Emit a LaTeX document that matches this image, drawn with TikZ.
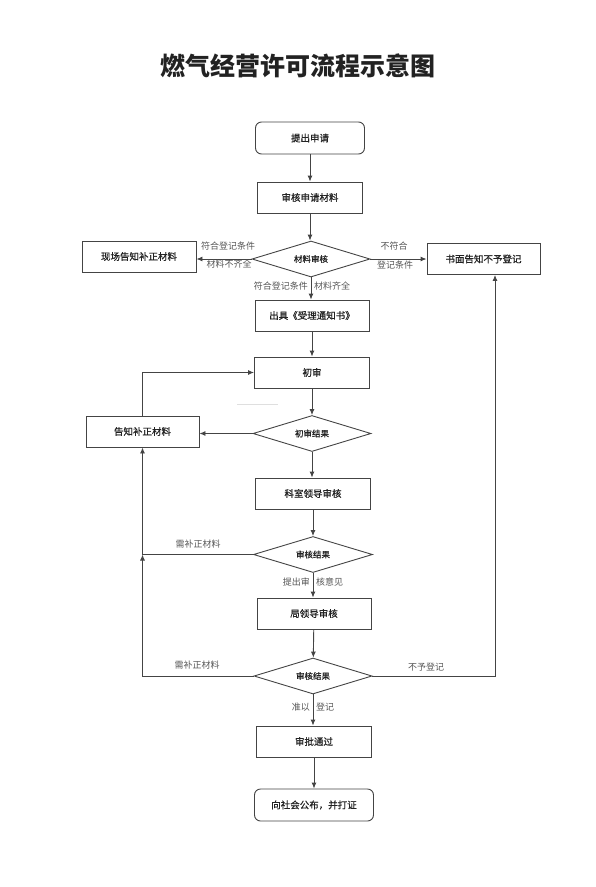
\documentclass[tikz,border=0pt]{standalone}
\usepackage{fontspec}
\newfontfamily\cjk{Noto Sans CJK SC}
\newfontfamily\cjkb[FakeBold=0.8]{Noto Sans CJK SC}
\usetikzlibrary{shapes.geometric,arrows.meta}
\definecolor{ln}{HTML}{444444}
\definecolor{lb}{HTML}{555555}
\definecolor{tx}{HTML}{222222}
\tikzset{
  box/.style={draw=ln,line width=0.9pt,minimum width=114pt,minimum height=31pt,inner sep=0pt,font=\cjkb\fontsize{9.5}{10}\selectfont,text=tx},
  rbox/.style={box,rounded corners=6pt},
  dia/.style={draw=ln,line width=0.9pt,diamond,aspect=3.3,minimum width=118pt,minimum height=36pt,inner sep=0pt,font=\cjkb\fontsize{8.5}{9}\selectfont,text=tx},
  lab/.style={font=\cjk\fontsize{9}{10}\selectfont,text=lb,inner sep=1pt},
  conn/.style={draw=ln,line width=0.9pt,-{Latex[length=6pt,width=5pt]}},
  plain/.style={draw=ln,line width=0.9pt}
}
\begin{document}
\begin{tikzpicture}[x=1pt,y=-1pt]
\useasboundingbox (0,0) rectangle (595,887);
\node[font=\cjk\bfseries\fontsize{25}{28}\selectfont,text=tx] (title) at (298,66) {燃气经营许可流程示意图};

\node[rbox,minimum width=109pt,minimum height=32pt] (s1) at (310,138) {提出申请};
\node[box,minimum width=105pt] (s2) at (310,197.5) {审核申请材料};
\node[dia] (d1) at (311,259) {材料审核};
\node[box] (l1) at (139,256.5) {现场告知补正材料};
\node[box,minimum width=113pt] (r1) at (483.5,259) {书面告知不予登记};
\node[box] (s3) at (312,315.5) {出具《受理通知书》};
\node[box,minimum width=115pt] (s4) at (312,372.5) {初审};
\node[dia] (d2) at (312,433.5) {初审结果};
\node[box,minimum width=113pt] (b5) at (142.5,431.5) {告知补正材料};
\node[box,minimum width=115pt] (s5) at (313,493.5) {科室领导审核};
\node[dia,minimum width=119pt] (d3) at (313,554.5) {审核结果};
\node[box] (s6) at (314,613.5) {局领导审核};
\node[dia] (d4) at (313,676) {审核结果};
\node[box,minimum width=115pt] (s7) at (314,741.5) {审批通过};
\node[rbox,minimum width=119pt,minimum height=32pt] (s8) at (314,805) {向社会公布，并打证};

\coordinate (j) at (b5.south |- d3.west);
\coordinate (rin) at ([xshift=11.5pt]r1.south);

\draw[conn] (s1) -- (s2);
\draw[conn] (s2.south) -- (s2.south |- d1.north);
\draw[conn] (d1.west) -- (d1.west -| l1.east);
\draw[conn] (d1.east) -- (d1.east -| r1.west);
\draw[conn] (d1.south) -- (d1.south |- s3.north);
\draw[conn] (s3) -- (s4);
\draw[conn] (s4) -- (d2);
\draw[conn] (d2.west) -- (d2.west -| b5.east);
\draw[conn] (b5.north) |- (s4.west);
\draw[conn] (d2.south) -- (d2.south |- s5.north);
\draw[conn] (s5) -- (d3);
\draw[conn] (d3.west) -| (b5.south);
\draw[conn] (d3.south) -- (d3.south |- s6.north);
\draw[conn] (s6) -- (d4);
\draw[conn] (d4.west) -| (j);
\draw[conn] (d4.east) -| (rin);
\draw[conn] (d4.south) -- (d4.south |- s7.north);
\draw[conn] (s7) -- (s8);

\draw[gray!25,line width=0.8pt] (237,404) -- (278,404);

\node[lab] (t1) at (228,246) {符合登记条件};
\node[lab] (t2) at (229,264) {材料不齐全};
\node[lab] (t3) at (394,246) {不符合};
\node[lab] (t4) at (395,265) {登记条件};
\node[lab,anchor=east] (t5) at (309,286) {符合登记条件};
\node[lab,anchor=west] (t6) at (313,286) {材料齐全};
\node[lab] (t7) at (198,544) {需补正材料};
\node[lab,anchor=east] (t8) at (311,582) {提出审};
\node[lab,anchor=west] (t9) at (315,582) {核意见};
\node[lab] (t10) at (197,665) {需补正材料};
\node[lab] (t11) at (426,667) {不予登记};
\node[lab,anchor=east] (t12) at (311,707) {准以};
\node[lab,anchor=west] (t13) at (315,707) {登记};
\end{tikzpicture}
\end{document}
